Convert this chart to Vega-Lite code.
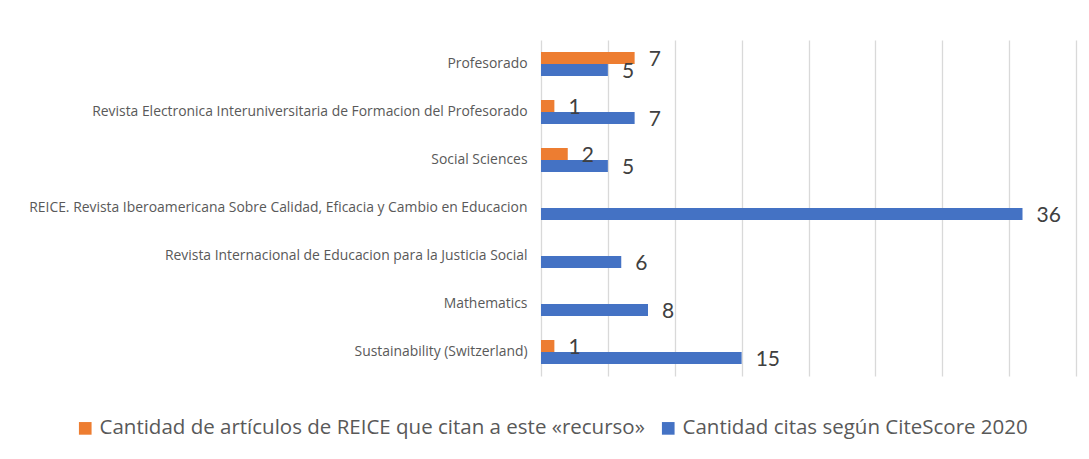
{
  "$schema": "https://vega.github.io/schema/vega-lite/v6.json",
  "autosize": {"type": "none"},
  "width": 535,
  "height": 336,
  "padding": {"left": 541, "top": 40, "right": 13, "bottom": 83},
  "background": "white",
  "config": {"view": {"stroke": null}, "font": "Open Sans"},
  "data": {"values": [
    {"recurso": "Profesorado", "serie": "Cantidad de artículos de REICE que citan a este «recurso»", "valor": 7},
    {"recurso": "Profesorado", "serie": "Cantidad citas según CiteScore 2020", "valor": 5},
    {"recurso": "Revista Electronica Interuniversitaria de Formacion del Profesorado", "serie": "Cantidad de artículos de REICE que citan a este «recurso»", "valor": 1},
    {"recurso": "Revista Electronica Interuniversitaria de Formacion del Profesorado", "serie": "Cantidad citas según CiteScore 2020", "valor": 7},
    {"recurso": "Social Sciences", "serie": "Cantidad de artículos de REICE que citan a este «recurso»", "valor": 2},
    {"recurso": "Social Sciences", "serie": "Cantidad citas según CiteScore 2020", "valor": 5},
    {"recurso": "REICE. Revista Iberoamericana Sobre Calidad, Eficacia y Cambio en Educacion", "serie": "Cantidad citas según CiteScore 2020", "valor": 36},
    {"recurso": "Revista Internacional de Educacion para la Justicia Social", "serie": "Cantidad citas según CiteScore 2020", "valor": 6},
    {"recurso": "Mathematics", "serie": "Cantidad citas según CiteScore 2020", "valor": 8},
    {"recurso": "Sustainability (Switzerland)", "serie": "Cantidad de artículos de REICE que citan a este «recurso»", "valor": 1},
    {"recurso": "Sustainability (Switzerland)", "serie": "Cantidad citas según CiteScore 2020", "valor": 15}
  ]},
  "encoding": {
    "y": {
      "field": "recurso", "type": "nominal", "sort": null,
      "scale": {"paddingInner": 0.5, "paddingOuter": 0.25},
      "axis": {"title": null, "domain": false, "ticks": false, "labelPadding": 14, "labelFontSize": 13.9, "labelColor": "#595959", "labelFont": "Open Sans", "labelLimit": 600}
    },
    "yOffset": {
      "field": "serie", "type": "nominal",
      "scale": {"domain": ["Cantidad de artículos de REICE que citan a este «recurso»", "Cantidad citas según CiteScore 2020"], "paddingInner": 0, "paddingOuter": 0}
    },
    "x": {
      "field": "valor", "type": "quantitative",
      "scale": {"domain": [0, 40], "nice": false},
      "axis": {"title": null, "labels": false, "ticks": false, "domain": false, "values": [0, 5, 10, 15, 20, 25, 30, 35, 40], "gridColor": "#d9d9d9", "gridWidth": 1.3}
    }
  },
  "layer": [
    {
      "mark": {"type": "bar"},
      "encoding": {
        "color": {
          "field": "serie", "type": "nominal",
          "scale": {"domain": ["Cantidad de artículos de REICE que citan a este «recurso»", "Cantidad citas según CiteScore 2020"], "range": ["#ED7D31", "#4472C4"]},
          "legend": {"title": null, "orient": "none", "direction": "horizontal", "legendX": -466, "legendY": 378, "symbolType": "square", "symbolSize": 160, "symbolStrokeWidth": 0, "labelFontSize": 20.5, "labelColor": "#595959", "labelFont": "Open Sans", "columnPadding": 13, "labelOffset": 4, "labelLimit": 700}
        }
      }
    },
    {
      "mark": {"type": "text", "align": "left", "baseline": "middle", "dx": 14, "dy": 2, "fontSize": 21, "color": "#404040", "font": "Lato"},
      "encoding": {"text": {"field": "valor", "type": "quantitative"}}
    }
  ]
}
